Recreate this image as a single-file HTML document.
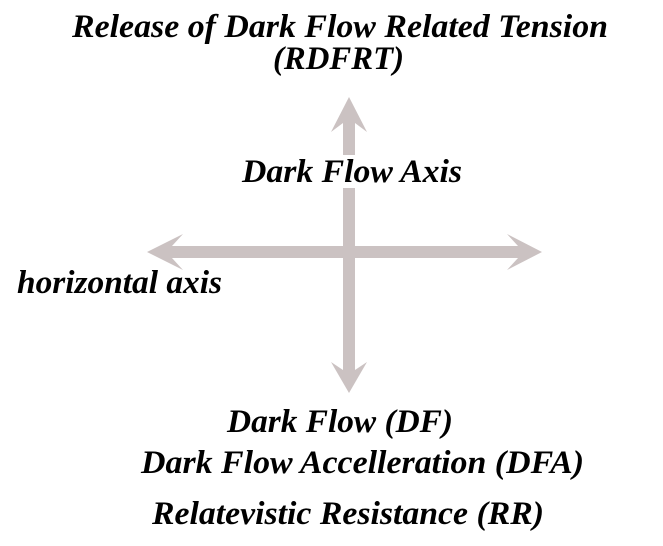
<!DOCTYPE html>
<html>
<head>
<meta charset="utf-8">
<style>
  html, body { margin: 0; padding: 0; background: #ffffff; }
  body { width: 663px; height: 546px; overflow: hidden; }
  svg { display: block; }
  text { font-family: "Liberation Serif", "Times New Roman", serif; font-style: italic; font-weight: bold; fill: #000000; }
</style>
</head>
<body>
<svg width="663" height="546" viewBox="0 0 663 546" xmlns="http://www.w3.org/2000/svg">
  <rect x="0" y="0" width="663" height="546" fill="#ffffff"/>

  <!-- horizontal arrow -->
  <polygon fill="#cbc2c2" points="147,252 183,234 172,246 518,246 507,234 542,252 507,270 518,258 172,258 183,270"/>
  <!-- vertical arrow -->
  <polygon fill="#cbc2c2" points="349,97 367,132 355,123 355,370 367,362 349,393 331,362 343,370 343,123 331,132"/>

  <!-- white gap behind axis label -->
  <rect x="336" y="155" width="26" height="33" fill="#ffffff"/>

  <text x="72" y="37" font-size="33" textLength="536" lengthAdjust="spacingAndGlyphs">Release of Dark Flow Related Tension</text>
  <text x="273" y="69" font-size="33" textLength="131" lengthAdjust="spacingAndGlyphs">(RDFRT)</text>

  <text x="242" y="182" font-size="33" textLength="220" lengthAdjust="spacingAndGlyphs">Dark Flow Axis</text>

  <text x="17" y="293" font-size="33" textLength="205" lengthAdjust="spacingAndGlyphs">horizontal axis</text>

  <text x="227" y="432" font-size="33" textLength="226" lengthAdjust="spacingAndGlyphs">Dark Flow (DF)</text>
  <text x="141" y="473" font-size="33" textLength="443" lengthAdjust="spacingAndGlyphs">Dark Flow Accelleration (DFA)</text>
  <text x="152" y="524" font-size="33" textLength="392" lengthAdjust="spacingAndGlyphs">Relatevistic Resistance (RR)</text>
</svg>
</body>
</html>
